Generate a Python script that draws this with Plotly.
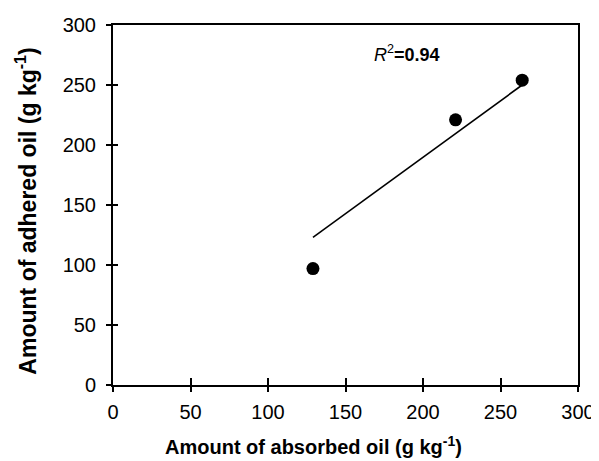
import plotly.graph_objects as go

# data
absorbed = [129, 221, 264]
adhered = [97, 221, 254]
trend_x = [129, 264]
trend_y = [123, 250]
tick_vals = [0, 50, 100, 150, 200, 250, 300]
r2_text = "<i>R</i><sup>2</sup><b>=0.94</b>"
x_title = "<b>Amount of absorbed oil (g kg<sup>-1</sup>)</b>"
y_title = "<b>Amount of adhered oil (g kg<sup>-1</sup>)</b>"

FONT = "Liberation Sans, Arial, sans-serif"

fig = go.Figure()
fig.add_trace(go.Scatter(x=trend_x, y=trend_y, mode="lines",
                         line=dict(color="black", width=1.6), showlegend=False))
fig.add_trace(go.Scatter(x=absorbed, y=adhered, mode="markers",
                         marker=dict(color="black", size=13), showlegend=False))

axis_common = dict(range=[0, 300], tickvals=tick_vals, showgrid=False, zeroline=False,
                   showline=True, linecolor="black", linewidth=2, mirror=True,
                   ticks="outside", ticklen=5, tickwidth=1.5, tickcolor="black",
                   automargin=False,
                   tickfont=dict(family=FONT, size=20, color="black"))

# the page body has an 8px default margin, so the figure is shrunk by 8px
fig.update_layout(
    width=591, height=453,
    margin=dict(l=104.5, r=21, t=17, b=76, autoexpand=False),
    plot_bgcolor="white", paper_bgcolor="white",
    xaxis=dict(**axis_common, ticklabelstandoff=3),
    yaxis=dict(**axis_common, ticklabelstandoff=6),
    xaxis2=dict(range=[0, 300], tickvals=tick_vals, overlaying="x", anchor="y",
                showgrid=False, zeroline=False, showticklabels=False, automargin=False,
                ticks="inside", ticklen=7, tickwidth=1.5, tickcolor="black"),
    yaxis2=dict(range=[0, 300], tickvals=tick_vals, overlaying="y", anchor="x",
                showgrid=False, zeroline=False, showticklabels=False, automargin=False,
                ticks="inside", ticklen=5, tickwidth=1.5, tickcolor="black"),
)
# invisible trace to activate the overlay axes
fig.add_trace(go.Scatter(x=[0], y=[0], xaxis="x2", yaxis="y2", mode="markers",
                         marker=dict(opacity=0), showlegend=False, hoverinfo="skip"))

fig.add_annotation(x=0.431, y=-0.167, xref="paper", yref="paper",
                   xanchor="center", yanchor="middle", text=x_title, showarrow=False,
                   font=dict(family=FONT, size=20, color="black"))
fig.add_annotation(x=-0.186, y=0.483, xref="paper", yref="paper", textangle=-90,
                   xanchor="center", yanchor="middle", text=y_title, showarrow=False,
                   font=dict(family=FONT, size=23, color="black"))

fig.add_annotation(x=167, y=276, xref="x", yref="y", xanchor="left", yanchor="middle",
                   text=r2_text, showarrow=False,
                   font=dict(family=FONT, size=18, color="black"))

fig.write_html("out.html")
